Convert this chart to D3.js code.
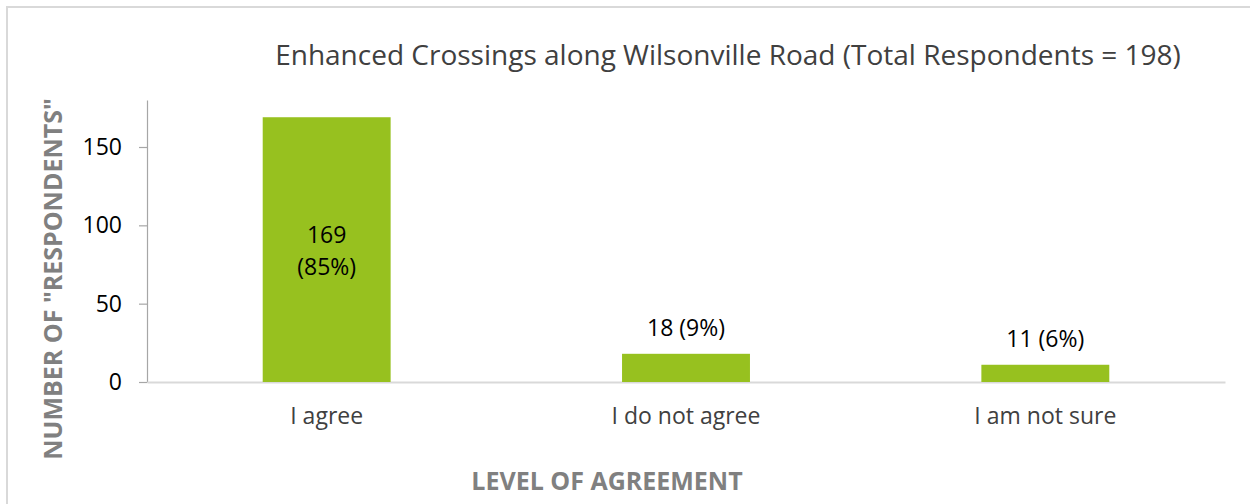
<!DOCTYPE html>
<html>
<head>
<meta charset="utf-8">
<script src="https://cdn.jsdelivr.net/npm/d3@7"></script>
<style>
  html, body { margin: 0; padding: 0; background: #fff; }
  svg { display: block; }
</style>
</head>
<body>
<div id="chart"></div>
<script>
'use strict';

// chart data
const categories = ["I agree", "I do not agree", "I am not sure"];
const respondents = [169, 18, 11];
const percents = ["85%", "9%", "6%"];
const yTicks = [0, 50, 100, 150];
const chartTitle = "Enhanced Crossings along Wilsonville Road (Total Respondents = 198)";
const xTitle = "LEVEL OF AGREEMENT";
const yTitle = "NUMBER OF \"RESPONDENTS\"";

const width = 1250, height = 504;
const margin = {top: 100, right: 25, bottom: 122, left: 147};
const font = "'Open Sans', sans-serif";

const svg = d3.select("#chart").append("svg")
    .attr("width", width)
    .attr("height", height)
    .attr("font-family", font);

// outer chart frame (cut off by the window on right/bottom)
svg.append("rect")
    .attr("x", 7)
    .attr("y", 7)
    .attr("width", width + 20)
    .attr("height", height + 20)
    .attr("fill", "none")
    .attr("stroke", "#d9d9d9")
    .attr("stroke-width", 2);

const x = d3.scaleBand()
    .domain(categories)
    .range([margin.left, width - margin.right])
    .paddingInner(0.644)
    .paddingOuter(0.322);

const y = d3.scaleLinear()
    .domain([0, 180])
    .range([height - margin.bottom, margin.top]);

// y axis
const yAxis = svg.append("g")
    .attr("transform", `translate(${margin.left},0)`)
    .call(d3.axisLeft(y).tickValues(yTicks).tickSize(8).tickPadding(17).tickSizeOuter(0));
yAxis.select(".domain").attr("stroke", "#a6a6a6").attr("stroke-width", 1.2);
yAxis.selectAll(".tick line").attr("stroke", "#a6a6a6").attr("stroke-width", 1.2);
yAxis.selectAll(".tick text")
    .attr("font-family", font)
    .attr("font-size", 23)
    .attr("fill", "#000");

// x axis baseline
const xAxis = svg.append("g")
    .attr("transform", `translate(0,${y(0)})`)
    .call(d3.axisBottom(x).tickSize(0).tickPadding(26));
xAxis.select(".domain").attr("stroke", "#d9d9d9").attr("stroke-width", 2);
xAxis.selectAll(".tick text")
    .attr("font-family", font)
    .attr("font-size", 23)
    .attr("fill", "#404040");

// bars
const data = categories.map((c, i) => ({cat: c, value: respondents[i], pct: percents[i]}));

svg.append("g").selectAll("rect")
    .data(data)
    .enter().append("rect")
    .attr("x", d => x(d.cat))
    .attr("y", d => y(d.value))
    .attr("width", x.bandwidth())
    .attr("height", d => y(0) - y(d.value))
    .attr("fill", "#97c11f");

// data labels
const labels = svg.append("g")
    .attr("font-size", 23)
    .attr("fill", "#000")
    .attr("text-anchor", "middle");

data.forEach(d => {
    const cx = x(d.cat) + x.bandwidth() / 2;
    if (y(0) - y(d.value) > 100) {
        const cy = (y(d.value) + y(0)) / 2;
        const t = labels.append("text").attr("x", cx).attr("y", cy - 7);
        t.append("tspan").attr("x", cx).attr("dy", 0).text(d.value);
        t.append("tspan").attr("x", cx).attr("dy", 32).text(`(${d.pct})`);
    } else {
        labels.append("text")
            .attr("x", cx)
            .attr("y", y(d.value) - 18)
            .text(`${d.value} (${d.pct})`);
    }
});

// titles
svg.append("text")
    .attr("x", 728)
    .attr("y", 65)
    .attr("text-anchor", "middle")
    .attr("font-size", 28)
    .attr("fill", "#404040")
    .text(chartTitle);

svg.append("text")
    .attr("x", 607)
    .attr("y", 490)
    .attr("text-anchor", "middle")
    .attr("font-size", 25)
    .attr("font-weight", "bold")
    .attr("fill", "#808080")
    .text(xTitle);

svg.append("text")
    .attr("transform", `translate(62,279) rotate(-90)`)
    .attr("text-anchor", "middle")
    .attr("font-size", 25)
    .attr("font-weight", "bold")
    .attr("fill", "#808080")
    .text(yTitle);
</script>
</body>
</html>
